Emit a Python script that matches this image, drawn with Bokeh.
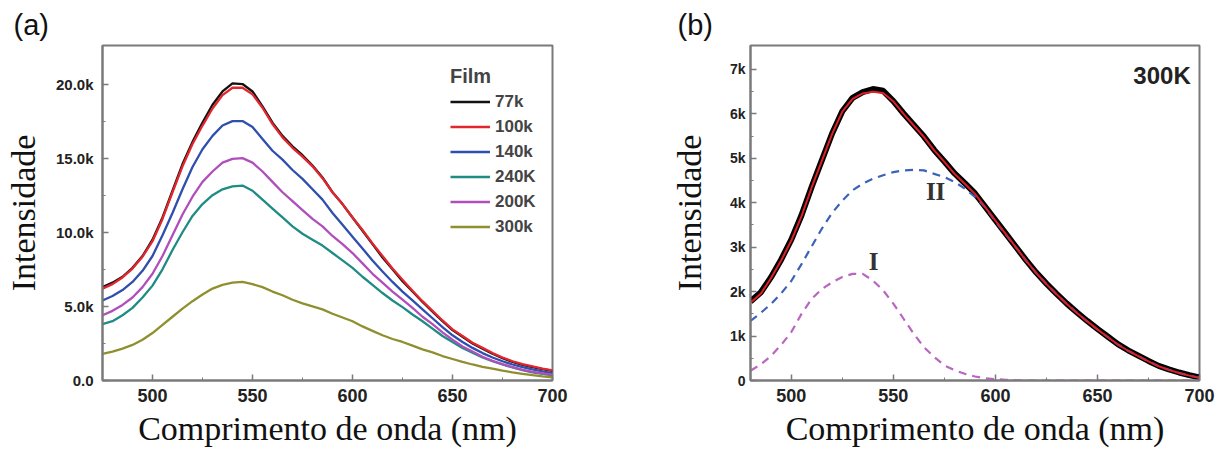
from bokeh.plotting import figure
from bokeh.models import FixedTicker, Legend, LegendItem, Label
from bokeh.layouts import row
from bokeh.embed import file_html
from bokeh.resources import INLINE

# ---------------- data: panel (a) ----------------
wl_a = [475, 480, 485, 490, 495, 500, 505, 510, 515, 520, 525, 530, 535, 540, 545,
        550, 555, 560, 565, 570, 575, 580, 585, 590, 595, 600, 605, 610, 615, 620,
        625, 630, 635, 640, 645, 650, 655, 660, 665, 670, 675, 680, 685, 690, 695, 700]
film_77k = [6300, 6600, 7000, 7600, 8400, 9500, 11000, 12800, 14600, 16100, 17400, 18600,
            19500, 20050, 20000, 19500, 18500, 17400, 16500, 15800, 15200, 14500, 13700,
            12700, 11900, 11000, 10100, 9200, 8300, 7500, 6700, 6000, 5300, 4650, 4000,
            3400, 2950, 2500, 2150, 1800, 1500, 1250, 1050, 900, 770, 650]
film_100k = [6200, 6500, 6950, 7550, 8350, 9400, 10900, 12700, 14450, 15950, 17200, 18350,
             19250, 19750, 19750, 19300, 18400, 17300, 16400, 15700, 15100, 14450, 13650,
             12700, 11900, 11000, 10150, 9250, 8400, 7550, 6800, 6050, 5350, 4700, 4050,
             3450, 3000, 2550, 2200, 1850, 1550, 1300, 1100, 950, 800, 680]
film_140k = [5400, 5700, 6100, 6650, 7400, 8400, 9800, 11300, 12900, 14400, 15600, 16500,
             17200, 17500, 17500, 17100, 16300, 15500, 14900, 14200, 13600, 12900, 12200,
             11300, 10500, 9700, 8900, 8100, 7350, 6650, 6000, 5400, 4800, 4200, 3600,
             3050, 2600, 2200, 1850, 1550, 1300, 1080, 900, 750, 620, 500]
film_240k = [3800, 4000, 4400, 4900, 5600, 6400, 7500, 8800, 10000, 11100, 11900, 12500,
             12900, 13100, 13150, 12800, 12200, 11600, 11000, 10400, 9900, 9500, 9100,
             8600, 8100, 7600, 7000, 6450, 5900, 5400, 4950, 4450, 4000, 3500, 3000,
             2600, 2200, 1880, 1550, 1300, 1080, 880, 700, 550, 440, 350]
film_200k = [4400, 4700, 5100, 5600, 6300, 7200, 8400, 9800, 11200, 12400, 13400, 14100,
             14700, 14950, 15000, 14700, 14100, 13400, 12700, 12100, 11500, 10900, 10400,
             9750, 9200, 8600, 7900, 7200, 6600, 6000, 5450, 4900, 4300, 3800, 3250,
             2750, 2300, 1950, 1600, 1320, 1100, 900, 720, 580, 480, 400]
film_300k = [1800, 1950, 2150, 2400, 2750, 3200, 3750, 4300, 4850, 5350, 5800, 6200,
             6450, 6600, 6650, 6500, 6300, 6000, 5750, 5450, 5200, 5000, 4800, 4500,
             4250, 4000, 3650, 3350, 3050, 2800, 2600, 2350, 2100, 1900, 1650, 1450,
             1250, 1080, 920, 800, 670, 550, 450, 360, 280, 220]
series_names = ["77k", "100k", "140k", "240K", "200K", "300k"]
series_colors = ["#111111", "#e3262e", "#2f4fae", "#1f8c84", "#b04fbb", "#8f8f2e"]

# ---------------- data: panel (b) ----------------
wl_b = [480, 485, 490, 495, 500, 505, 510, 515, 520, 525, 530, 535, 540, 545, 550,
        555, 560, 565, 570, 575, 580, 585, 590, 595, 600, 605, 610, 615, 620, 625,
        630, 635, 640, 645, 650, 655, 660, 665, 670, 675, 680, 685, 690, 695, 700]
data_300k = [1780, 1980, 2320, 2720, 3170, 3720, 4360, 4960, 5560, 6060, 6360, 6490,
             6560, 6520, 6290, 6010, 5750, 5490, 5190, 4930, 4660, 4440, 4210, 3910,
             3610, 3310, 3010, 2710, 2430, 2180, 1950, 1730, 1530, 1340, 1160, 990,
             820, 680, 560, 440, 330, 250, 180, 120, 70]
fit_300k = [1750, 1950, 2300, 2700, 3150, 3700, 4350, 4950, 5550, 6050, 6340, 6460,
            6500, 6470, 6280, 6000, 5740, 5480, 5180, 4920, 4650, 4430, 4200, 3900,
            3600, 3300, 3000, 2700, 2420, 2170, 1940, 1720, 1520, 1330, 1150, 980,
            810, 670, 550, 430, 320, 240, 170, 110, 60]
peak_II = [1340, 1520, 1720, 1960, 2240, 2620, 3020, 3420, 3770, 4050, 4280, 4430,
           4540, 4620, 4690, 4730, 4740, 4730, 4650, 4580, 4470, 4320, 4130, 3900,
           3580, 3290, 3000, 2700, 2420, 2170, 1940, 1720, 1520, 1330, 1150, 980,
           810, 670, 550, 430, 320, 240, 170, 110, 60]
peak_I = [220, 360, 550, 800, 1090, 1500, 1840, 2060, 2210, 2330, 2400, 2400, 2250,
          2030, 1730, 1390, 1050, 750, 530, 340, 230, 150, 90, 50, 30, 15, 5, 0, 0,
          0, 0, 0, 0, 0, 0, 0, 0, 0, 0, 0, 0, 0, 0, 0, 0]

a_yticks = [0, 5000, 10000, 15000, 20000]
a_ylabels = ["0.0", "5.0k", "10.0k", "15.0k", "20.0k"]
b_yticks = [0, 1000, 2000, 3000, 4000, 5000, 6000, 7000]
b_ylabels = ["0", "1k", "2k", "3k", "4k", "5k", "6k", "7k"]
xticks = [500, 550, 600, 650, 700]
xminor = [525, 575, 625, 675]

GREY = "#7a7a7a"
SANS = "Liberation Sans"
SERIF = "Liberation Serif"


def style(p, yticks, ylabels, yminor, ylab_size, ylab_standoff, yaxis_standoff,
          panel_tag, tag_offset):
    p.grid.visible = False
    p.outline_line_color = GREY
    p.outline_line_width = 2
    p.background_fill_color = "white"
    p.xaxis.ticker = FixedTicker(ticks=xticks, minor_ticks=xminor)
    p.yaxis.ticker = FixedTicker(ticks=yticks, minor_ticks=yminor)
    p.yaxis.major_label_overrides = {t: l for t, l in zip(yticks, ylabels)}
    for ax in (p.xaxis[0], p.yaxis[0]):
        ax.axis_line_color = GREY
        ax.axis_line_width = 2
        ax.major_tick_line_color = GREY
        ax.minor_tick_line_color = GREY
        ax.major_tick_line_width = 1.5
        ax.major_tick_in = 6
        ax.major_tick_out = 0
        ax.minor_tick_in = 3
        ax.minor_tick_out = 0
        ax.major_label_text_font = SANS
        ax.major_label_text_font_style = "bold"
        ax.major_label_text_color = "#222222"
        ax.axis_label_text_font = SERIF
        ax.axis_label_text_font_style = "normal"
        ax.axis_label_text_font_size = "34px"
        ax.axis_label_text_color = "#111111"
    p.xaxis.major_label_text_font_size = "18px"
    p.yaxis.major_label_text_font_size = ylab_size
    p.xaxis.major_label_standoff = 8
    p.xaxis.axis_label_standoff = 5
    p.yaxis.major_label_standoff = ylab_standoff
    p.yaxis.axis_label_standoff = yaxis_standoff
    p.xaxis.axis_label = "Comprimento de onda (nm)"
    p.yaxis.axis_label = "Intensidade"
    p.title.text = panel_tag
    p.title.align = "left"
    p.title.offset = tag_offset
    p.title.standoff = 10
    p.title.text_font = SANS
    p.title.text_font_style = "normal"
    p.title.text_font_size = "29px"
    p.title.text_color = "#111111"


# ---------------- panel (a) ----------------
p1 = figure(width=640, height=453, x_range=(475, 700), y_range=(0, 22600),
            output_backend="svg", toolbar_location=None,
            min_border_left=102, min_border_right=88, min_border_top=45, min_border_bottom=73)
style(p1, a_yticks, a_ylabels, [2500, 7500, 12500, 17500], "15px", 9, 11, "(a)", -89)

series = [film_77k, film_100k, film_140k, film_240k, film_200k, film_300k]
items = []
for name, col, ys in zip(series_names, series_colors, series):
    r = p1.line(wl_a, ys, line_color=col, line_width=2.3)
    items.append(LegendItem(label=name, renderers=[r]))

legend = Legend(items=items, location=(348, 141), title="Film",
                title_text_font=SANS, title_text_font_style="bold", title_text_font_size="20px",
                title_standoff=1,
                label_text_font=SANS, label_text_font_style="bold", label_text_font_size="17px",
                glyph_width=40, glyph_height=25, label_height=25, spacing=0, padding=0,
                margin=0, label_standoff=5, border_line_alpha=0, background_fill_alpha=0)
p1.add_layout(legend)

# ---------------- panel (b) ----------------
p2 = figure(width=587, height=453, x_range=(480, 700), y_range=(0, 7540),
            output_backend="svg", toolbar_location=None,
            min_border_left=110, min_border_right=28, min_border_top=45, min_border_bottom=73)
style(p2, b_yticks, b_ylabels, [500, 1500, 2500, 3500, 4500, 5500, 6500], "14px", 5, 19,
      "(b)", -73)

p2.line(wl_b, data_300k, line_color="#000000", line_width=6)
p2.line(wl_b, peak_II, line_color="#3a63b8", line_width=2.2, line_dash="8 6")
p2.line(wl_b, peak_I, line_color="#b866c0", line_width=2.2, line_dash="8 6")
p2.line(wl_b, fit_300k, line_color="#e02028", line_width=2)

p2.add_layout(Label(x=695.7, y=7160, text="300K", text_font=SANS, text_font_style="bold",
                    text_font_size="24px", text_align="right", text_baseline="top",
                    text_color="#222222"))
p2.add_layout(Label(x=540.3, y=2680, text="I", text_font=SERIF, text_font_style="bold",
                    text_font_size="25px", text_align="center", text_baseline="middle",
                    text_color="#333333"))
p2.add_layout(Label(x=570.7, y=4260, text="II", text_font=SERIF, text_font_style="bold",
                    text_font_size="25px", text_align="center", text_baseline="middle",
                    text_color="#333333"))

layout = row(p1, p2)
open("out.html", "w").write(file_html(layout, INLINE))
